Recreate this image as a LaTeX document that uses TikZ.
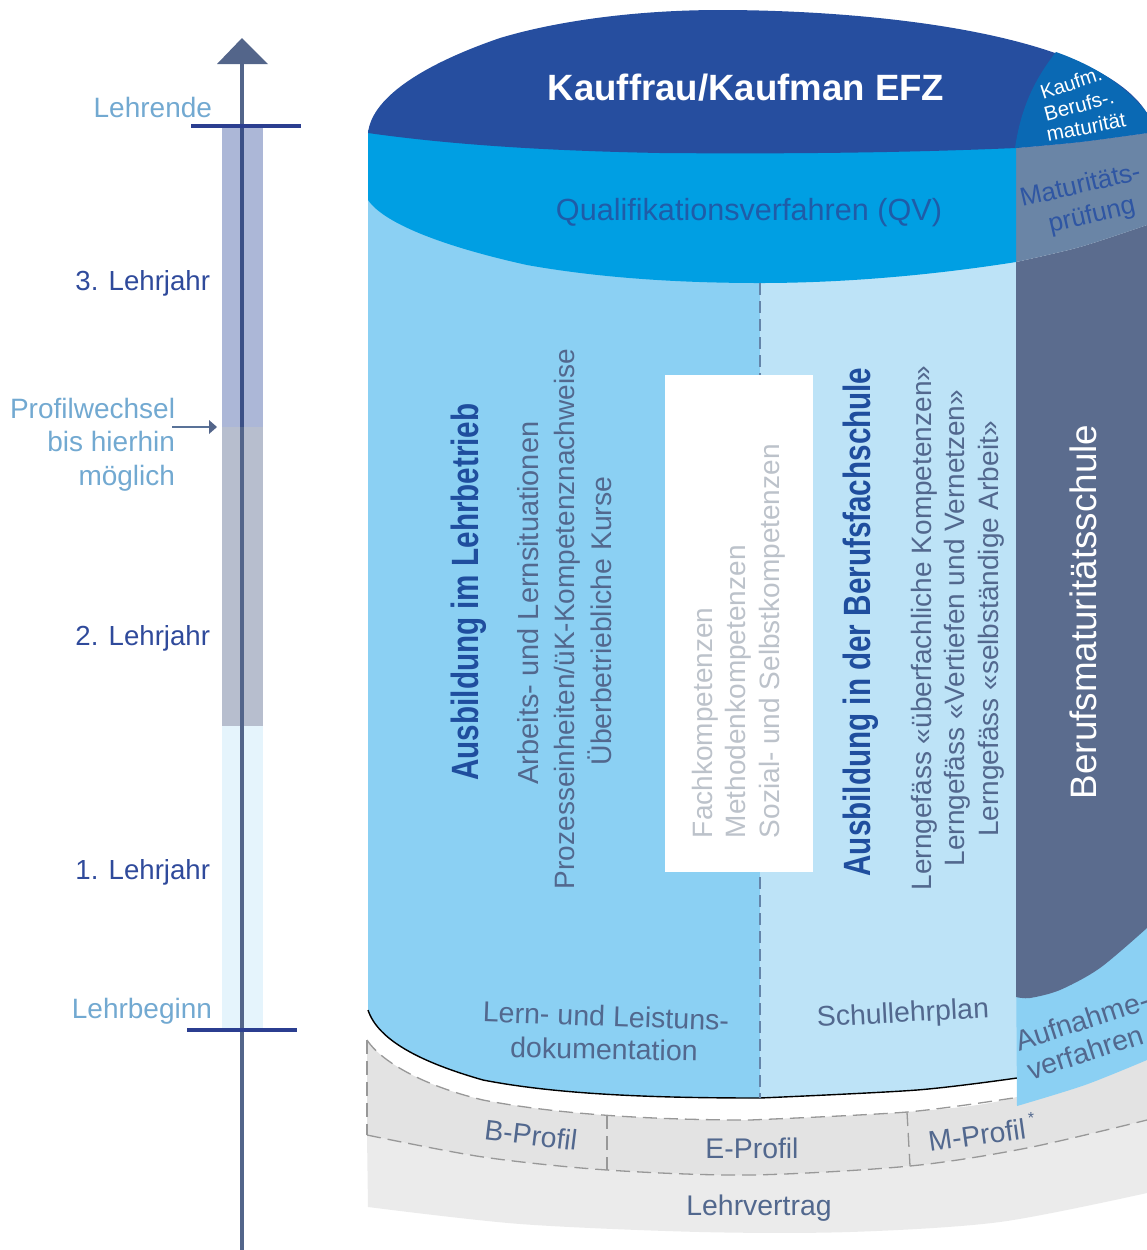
\documentclass[tikz,border=0pt]{standalone}
\usepackage{fontspec}
\usepackage{graphicx}
\setmainfont{Liberation Sans}
\definecolor{lidblue}{HTML}{264E9F}
\definecolor{kaufm}{HTML}{0A69B4}
\definecolor{qvblue}{HTML}{009FE3}
\definecolor{bodyl}{HTML}{8BD0F3}
\definecolor{bodyr}{HTML}{BDE3F7}
\definecolor{matur}{HTML}{6A85A6}
\definecolor{bms}{HTML}{5B6C8E}
\definecolor{grayo}{HTML}{EBEBEB}
\definecolor{grayp}{HTML}{E3E3E3}
\definecolor{dashc}{HTML}{989898}
\definecolor{axisc}{HTML}{53658A}
\definecolor{tickc}{HTML}{2B3E90}
\definecolor{lightt}{HTML}{72A9D1}
\definecolor{yeart}{HTML}{2F4A9B}
\definecolor{darkt}{HTML}{52688E}
\definecolor{headt}{HTML}{1F4E9E}
\definecolor{qvt}{HTML}{1F5CA8}
\definecolor{compt}{HTML}{BCC2CA}
\definecolor{matt}{HTML}{2F56A3}
\tikzset{
  txt/.style={inner sep=0pt,outer sep=0pt,font=\fontsize{#1}{#1}\selectfont},
  lab/.style={txt=14.2,text=darkt},
  vert/.style={txt=#1,text=darkt,rotate=90},
  dashb/.style={draw=dashc,line width=0.65pt,dash pattern=on 7pt off 3.5pt},
}
\begin{document}
\begin{tikzpicture}[x=0.5pt,y=-0.5pt]
\useasboundingbox (0,0) rectangle (1147,1250);
\clip (0,0) rectangle (1147,1250);
% --- timeline ---
\fill[fill=yeart!40!white] (222,126) rectangle (263,427);
\fill[fill=axisc!42!white] (222,427) rectangle (263,726);
\fill[fill=bodyr!40!white] (222,726) rectangle (263,1030);
\coordinate (axisbase) at (242,1250);
\coordinate (axistop) at (242,60);
\draw[axisc,line width=2pt] (axisbase) -- (axistop);
\draw[yeart!85!black,line width=2pt,opacity=0.55] (242,126) -- (242,427);
\fill[axisc] (242,38) -- (268,64) -- (217,64) -- cycle;
\coordinate (te1) at (191,126);\coordinate (te2) at (301,126);
\coordinate (tb1) at (187,1030);\coordinate (tb2) at (297,1030);
\draw[tickc,line width=1.8pt] (te1) -- (te2);
\draw[tickc,line width=1.8pt] (tb1) -- (tb2);
\coordinate (pw1) at (172,427);\coordinate (pw2) at (211,427);
\draw[axisc!80!lightt,line width=0.8pt] (pw1) -- (pw2);
\fill[axisc] (217,427) -- (209,420) -- (209,434) -- cycle;
\node[txt=14,text=lightt,anchor=east] (lehrende) at (212,107) {Lehrende};
\node[txt=13.8,text=yeart,anchor=east] (j3) at (210,283) {3. Lehrjahr};
\node[txt=13.8,text=yeart,anchor=east] (j2) at (210,638) {2. Lehrjahr};
\node[txt=13.8,text=yeart,anchor=east] (j1) at (210,872) {1. Lehrjahr};
\node[txt=14,text=lightt,anchor=east] (lehrbeginn) at (212,1011) {Lehrbeginn};
\node[txt=14,text=lightt,anchor=east] (pw) at (175,408) {Profilwechsel};
\node[txt=14,text=lightt,anchor=east] (bis) at (175,441) {bis hierhin};
\node[txt=14,text=lightt,anchor=east] (mog) at (175,478) {möglich};
% --- base bands ---
\fill[grayo] (367,1135) -- plot[smooth] coordinates {(367,1135) (483,1157) (607,1170) (750,1175) (910,1166) (1027,1148) (1147,1120)}
  -- (1147,1193) -- plot[smooth] coordinates {(1147,1193) (1000,1222) (850,1232) (700,1232) (520,1224) (368,1207)} -- cycle;
\fill[grayp] (367,1040) .. controls (380,1060) and (420,1085) .. (483,1100) .. controls (560,1115) and (660,1120) .. (750,1120)
  -- plot[smooth] coordinates {(750,1120) (907,1112) (1013,1098) (1147,1050)}
  -- (1147,1120) -- plot[smooth] coordinates {(1147,1120) (1027,1148) (910,1166) (750,1175) (607,1170) (483,1157) (367,1135)} -- cycle;
\draw[dashb] (367,1040) .. controls (380,1060) and (420,1085) .. (483,1100) .. controls (560,1115) and (660,1120) .. (750,1120)
  -- plot[smooth] coordinates {(750,1120) (907,1112) (1013,1098)};
\draw[dashb] plot[smooth] coordinates {(367,1135) (483,1157) (607,1170) (750,1175) (910,1166) (1027,1148) (1147,1120)};
\coordinate (dl1) at (367,1040);\coordinate (dl2) at (367,1135);
\coordinate (dm1) at (607,1115);\coordinate (dm2) at (607,1170);
\coordinate (dr1) at (907,1112);\coordinate (dr2) at (910,1166);
\draw[dashb] (dl1) -- (dl2);
\draw[dashb] (dm1) -- (dm2);
\draw[dashb] (dr1) -- (dr2);
% --- body ---
\fill[bodyl] (368,133) -- (368,1010) .. controls (378,1040) and (420,1062) .. (483,1080) .. controls (560,1095) and (660,1098) .. (760,1098) -- (760,133) -- cycle;
\fill[bodyr] (760,133) -- (760,1098) -- plot[smooth] coordinates {(760,1098) (917,1090) (1017,1078)} -- (1017,133) -- cycle;
\draw[black,line width=0.7pt] (368,1010) .. controls (378,1040) and (420,1062) .. (483,1080) .. controls (560,1095) and (660,1098) .. (760,1098)
  -- plot[smooth] coordinates {(760,1098) (917,1090) (1017,1078)};
% right column
\fill[bodyl] (1016,950) -- (1017,1106) -- plot[smooth] coordinates {(1017,1106) (1085,1085) (1147,1060)} -- (1147,900) -- cycle;
\fill[bms] (1016,262) -- plot[smooth] coordinates {(1016,262) (1080,247) (1147,225)} -- (1147,928)
  -- plot[smooth] coordinates {(1147,928) (1100,968) (1060,990) (1030,998) (1016,997)} -- cycle;
\fill[matur] (1016,148) -- plot[smooth] coordinates {(1016,148) (1080,142) (1147,133)} -- (1147,225)
  -- plot[smooth] coordinates {(1147,225) (1080,247) (1016,262)} -- cycle;
% QV band
\fill[qvblue] (368,130) -- (368,200) .. controls (385,225) and (450,248) .. (527,265) .. controls (600,278) and (680,283) .. (760,283)
  .. controls (850,283) and (940,274) .. (1016,262) -- (1016,130) -- cycle;
% lid
\fill[lidblue] (368,133) .. controls (372,95) and (430,62) .. (500,38) .. controls (560,20) and (640,10) .. (720,10) .. controls (860,10) and (1095,30) .. (1147,113)
  -- (1147,133) -- plot[smooth] coordinates {(1147,133) (1080,142) (1016,148)} .. controls (900,153) and (780,154) .. (660,153) .. controls (560,151) and (460,146) .. (368,133) -- cycle;
\fill[kaufm] (1056,52) .. controls (1030,85) and (1020,115) .. (1015,148) -- plot[smooth] coordinates {(1015,148) (1080,142) (1147,133)} -- (1147,113)
  .. controls (1125,85) and (1095,66) .. (1056,52) -- cycle;
\coordinate (cd1) at (760,283);\coordinate (cd2) at (760,1098);
\draw[draw=axisc!70!bodyl,line width=0.6pt,dash pattern=on 6pt off 3pt] (cd1) -- (cd2);
% --- white box ---
\node[fill=white,inner sep=0pt,minimum width=74pt,minimum height=248.5pt,anchor=north west] (compbox) at (665,375) {};
% --- texts ---
\node[txt=18.3,text=white] (titel) at (746,88) {\textbf{Kauffrau/Kaufman EFZ}};
\node[txt=10,text=white,rotate=18] (k1) at (1071,83) {Kaufm.};
\node[txt=10.2,text=white,rotate=15] (k2) at (1079,105) {Berufs-.};
\node[txt=10.3,text=white,rotate=11] (k3) at (1086,127) {maturität};
\node[txt=15.3,text=qvt] (qv) at (749,213) {Qualifikationsverfahren (QV)};
\node[txt=13,text=matt,rotate=13] (m1) at (1080,184) {Maturitäts-};
\node[txt=13,text=matt,rotate=13] (m2) at (1092,216) {prüfung};
\node[txt=19,text=headt,rotate=90] (a1) at (469,592) {\scalebox{0.78}[1]{\textbf{Ausbildung im Lehrbetrieb}}};
\node[vert=14.5] (a2) at (528,603) {Arbeits- und Lernsituationen};
\node[vert=14] (a3) at (567,619) {Prozesseinheiten/üK-Kompetenznachweise};
\node[vert=14.2] (a4) at (600,621) {Überbetriebliche Kurse};
\node[txt=14,text=compt,rotate=90,anchor=west] (c1) at (705,838) {Fachkompetenzen};
\node[txt=14,text=compt,rotate=90,anchor=west] (c2) at (738,838) {Methodenkompetenzen};
\node[txt=14,text=compt,rotate=90,anchor=west] (c3) at (772,838) {Sozial- und Selbstkompetenzen};
\node[txt=19,text=headt,rotate=90] (b1) at (861,622) {\scalebox{0.78}[1]{\textbf{Ausbildung in der Berufsfachschule}}};
\node[vert=14] (b2) at (924,628) {Lerngefäss «überfachliche Kompetenzen»};
\node[vert=14] (b3) at (957,628) {Lerngefäss «Vertiefen und Vernetzen»};
\node[vert=14] (b4) at (991,629) {Lerngefäss «selbständige Arbeit»};
\node[txt=18.4,text=white,rotate=90] (bmsl) at (1083,612) {Berufsmaturitätsschule};
\node[txt=14.3,text=darkt,rotate=-2] (l1) at (606,1016) {Lern- und Leistuns-};
\node[txt=14.3,text=darkt,rotate=-1] (l2) at (604,1049) {dokumentation};
\node[lab,rotate=3] (s1) at (903,1015) {Schullehrplan};
\node[lab,rotate=18] (af1) at (1082,1020) {Aufnahme-};
\node[lab,rotate=18] (af2) at (1085,1052) {verfahren};
\node[lab,rotate=-7] (pb) at (531,1135) {B-Profil};
\node[lab] (pe) at (752,1148) {E-Profil};
\node[lab,rotate=8] (pm) at (977,1135) {M-Profil};
\node[txt=8,text=darkt] (pstar) at (1031,1118) {*};
\node[lab] (lv) at (759,1208) {Lehrvertrag};
\end{tikzpicture}
\end{document}
